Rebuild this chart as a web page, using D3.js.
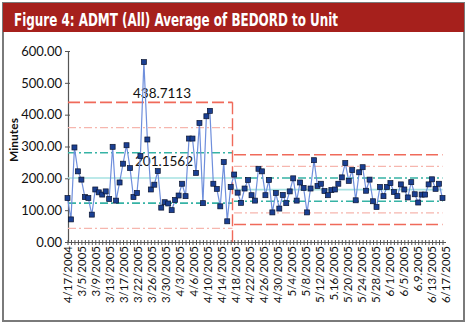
<!DOCTYPE html>
<html><head><meta charset="utf-8">
<script src="https://cdn.jsdelivr.net/npm/d3@7"></script>
<style>
html,body{margin:0;padding:0;background:#fff;}
svg{display:block;}
</style></head>
<body>
<svg id="chart" width="468" height="326"></svg>
<script>
const title = "Figure 4: ADMT (All) Average of BEDORD to Unit";
const yTitle = "Minutes";
const xTickLabels = ["4/17/2004","3/5/2005","3/9/2005","3/13/2005","3/17/2005","3/22/2005","3/26/2005","3/30/2005","4/3/2005","4/6/2005","4/10/2005","4/14/2005","4/18/2005","4/22/2005","4/26/2005","4/30/2005","5/4/2005","5/8/2005","5/12/2005","5.16/2005","5/20/2005","5/24/2005","5/28/2005","6/1/2005","6/5/2005","6.9.2005","6/13/2005","6/17/2005"];
const phase1Values = [138,71,297,222,196,141,138,86,165,156,149,159,135,299,130,187,246,304,232,141,154,270,565,322,165,180,223,108,125,121,100,132,146,183,144,325,325,217,374,122,395,412,183,167,112,251,65,173];
const phase2Values = [212,155,123,168,195,147,130,230,222,147,195,93,154,105,148,122,159,200,130,187,170,93,168,257,176,183,160,147,163,165,183,203,248,192,226,131,219,235,161,196,128,110,173,144,173,185,157,144,181,165,140,188,150,124,149,149,181,197,167,183,138];
const phase1Limits = {center:201.1562, ucl:438.7113};
const phase2Limits = {center:164.5, ucl:274};
const yTicks = [0,100,200,300,400,500,600];

const values = phase1Values.concat(phase2Values);
const n = values.length;
const svg = d3.select("#chart");

// frame + title bar
svg.append("rect").attr("x",3).attr("y",3).attr("width",461).attr("height",318)
  .attr("fill","#fff").attr("stroke","#7a7a7a").attr("stroke-width",2);
svg.append("rect").attr("x",3).attr("y",3).attr("width",461).attr("height",29).attr("fill","#a6201c");
svg.append("text").attr("x",14).attr("y",26).text(title)
  .attr("fill","#fff").attr("font-family","DejaVu Sans Condensed, DejaVu Sans").attr("font-weight","bold")
  .attr("font-size",18).attr("textLength",324).attr("lengthAdjust","spacingAndGlyphs");

const x = d3.scalePoint().domain(d3.range(n)).range([67.5, 442.5]);
const y = d3.scaleLinear().domain([0,600]).range([242,51]);
const font = "Lato, Open Sans, sans-serif";

// y axis
const yAxis = svg.append("g").attr("transform","translate(68,0)")
  .call(d3.axisLeft(y).tickValues(yTicks).tickFormat(d3.format(".2f")).tickSize(3).tickPadding(3));
yAxis.select(".domain").attr("stroke","#555").attr("stroke-width",1.2);
yAxis.selectAll(".tick line").attr("stroke","#555").attr("x2",2).attr("x1",-3);
yAxis.selectAll("text").attr("font-family",font).attr("font-size",13).attr("fill","#111");

svg.append("text").attr("transform","translate(18,140) rotate(-90)").attr("text-anchor","middle")
  .attr("font-family",font).attr("font-weight","bold").attr("font-size",12).attr("fill","#111").text(yTitle);

// x axis
const xAxis = svg.append("g").attr("transform","translate(0,242)")
  .call(d3.axisBottom(x).tickValues(d3.range(n)).tickSize(3).tickFormat(""));
xAxis.select(".domain").attr("stroke","#555").attr("stroke-width",1.2).attr("d","M68,0.5H446");
xAxis.selectAll(".tick line").attr("stroke","#555").attr("y1",-2).attr("y2",3);
const labG = svg.append("g");
xTickLabels.forEach((lab,i)=>{
  const xi = x(i*4);
  labG.append("text").attr("transform",`translate(${xi+0.5+i*0.12},246) rotate(-90)`)
    .attr("text-anchor","end").attr("dy","0.35em")
    .attr("font-family",font).attr("font-size",11.5).attr("fill","#111").text(lab);
});

// control limits
const x0 = 68, xBreak = 232.5, xEnd = x(n-1);
function limitLines(lim, xa, xb){
  const sigma = (lim.ucl - lim.center)/3;
  const defs = [
    {k:3, c:"#f06a5a", w:1.6, d:"12,4"},
    {k:2, c:"#f6b6ae", w:1.3, d:"8,3,2,3"},
    {k:1, c:"#36b3a5", w:1.6, d:"8,3,2,3"},
  ];
  defs.forEach(df=>{
    [1,-1].forEach(s=>{
      const v = lim.center + s*df.k*sigma;
      if (v < 0) return;
      svg.append("line").attr("x1",xa).attr("x2",xb).attr("y1",y(v)).attr("y2",y(v))
        .attr("stroke",df.c).attr("stroke-width",df.w).attr("stroke-dasharray",df.d);
    });
  });
  svg.append("line").attr("x1",xa).attr("x2",xb).attr("y1",y(lim.center)).attr("y2",y(lim.center))
    .attr("stroke","#a6e2e2").attr("stroke-width",1.6);
}
limitLines(phase1Limits, x0, xBreak);
limitLines(phase2Limits, xBreak+1.5, xEnd);
svg.append("line").attr("x1",xBreak).attr("x2",xBreak)
  .attr("y1",y(phase1Limits.ucl)).attr("y2",242)
  .attr("stroke","#f06a5a").attr("stroke-width",1.4).attr("stroke-dasharray","12,4");

// labels
svg.append("text").attr("x",133).attr("y",98).attr("font-family",font).attr("font-size",13.5).attr("fill","#111")
  .text(d3.format(".4f")(phase1Limits.ucl));
svg.append("text").attr("x",135).attr("y",166).attr("font-family",font).attr("font-size",13.5).attr("fill","#111")
  .text(d3.format(".4f")(phase1Limits.center));

// data line
const line = d3.line().x((d,i)=>x(i)).y(d=>y(d));
svg.append("path").datum(values).attr("d",line).attr("fill","none").attr("stroke","#6f8fdc").attr("stroke-width",1.2);
svg.append("g").selectAll("rect").data(values).join("rect")
  .attr("x",(d,i)=>x(i)-2.5).attr("y",d=>y(d)-2.5).attr("width",5).attr("height",5)
  .attr("fill","#1a3f92").attr("stroke","#0b1530").attr("stroke-width",0.7);
</script>
</body></html>
